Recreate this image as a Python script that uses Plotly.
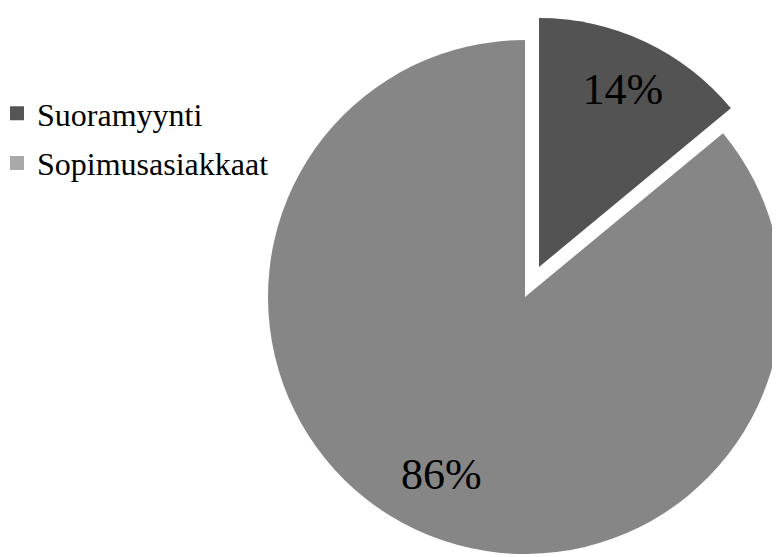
import plotly.graph_objects as go

# ---- data ----
labels = ["Suoramyynti", "Sopimusasiakkaat"]
values = [14, 86]
slice_colors = ["#535353", "#868686"]
legend_colors = ["#555555", "#a9a9a9"]

W, H = 780, 557
OFF = 8  # page body margin (px) in front of the figure
FONT = "Liberation Serif, Times New Roman, serif"
CLEAR = "rgba(0,0,0,0)"
PCT = "%{percent:.0%}"


def dom_px(cx, cy, r):
    """domain (paper fractions) of a box centred at window px (cx, cy), half-size r"""
    cx -= OFF
    cy -= OFF
    r = min(r, cx, W - cx, cy, H - cy)
    return dict(x=[(cx - r) / W, (cx + r) / W],
                y=[(H - (cy + r)) / H, (H - (cy - r)) / H])


DOM_MAIN = dom_px(525, 297, 257)
DOM_EXPL = dom_px(539, 267, 257)

fig = go.Figure()

# legend-only traces (tiny, hidden behind the big slice)
for i in range(len(labels)):
    fig.add_trace(go.Pie(
        labels=[labels[i]], values=[values[i]],
        marker=dict(colors=[legend_colors[i]],
                    line=dict(color=legend_colors[i], width=2)),
        textinfo="none", hoverinfo="skip", sort=False,
        legendgroup="g%d" % i, showlegend=True,
        domain=dom_px(440, 420, 1),
    ))

common = dict(labels=labels, values=values, sort=False, direction="clockwise",
              rotation=0, textposition="inside",
              insidetextorientation="horizontal", showlegend=False,
              textfont=dict(family=FONT, size=44, color="black"))

# main pie: big slice
fig.add_trace(go.Pie(
    marker=dict(colors=[CLEAR, slice_colors[1]], line=dict(width=0)),
    texttemplate=["", ""], hoverinfo="label+percent",
    domain=DOM_MAIN, **common,
))

# exploded small slice
fig.add_trace(go.Pie(
    marker=dict(colors=[slice_colors[0], CLEAR], line=dict(width=0)),
    texttemplate=["", ""], hoverinfo="label+percent",
    domain=DOM_EXPL, **common,
))

# label carriers (ring placement puts the text further out along the slice)
fig.add_trace(go.Pie(
    marker=dict(colors=[CLEAR, CLEAR], line=dict(width=0)),
    texttemplate=["", PCT], hoverinfo="skip", hole=0.53,
    domain=DOM_MAIN, **common,
))
fig.add_trace(go.Pie(
    marker=dict(colors=[CLEAR, CLEAR], line=dict(width=0)),
    texttemplate=[PCT, ""], hoverinfo="skip", hole=0.58,
    domain=DOM_EXPL, **common,
))

fig.update_layout(
    width=W, height=H,
    margin=dict(l=0, r=0, t=0, b=0, autoexpand=False),
    paper_bgcolor="white", plot_bgcolor="white",
    legend=dict(x=-11 / W, xanchor="left", y=1 - 78 / H, yanchor="top",
                font=dict(family=FONT, size=32, color="black"),
                traceorder="grouped", tracegroupgap=5,
                bgcolor="rgba(0,0,0,0)"),
)

fig.write_html("out.html")
